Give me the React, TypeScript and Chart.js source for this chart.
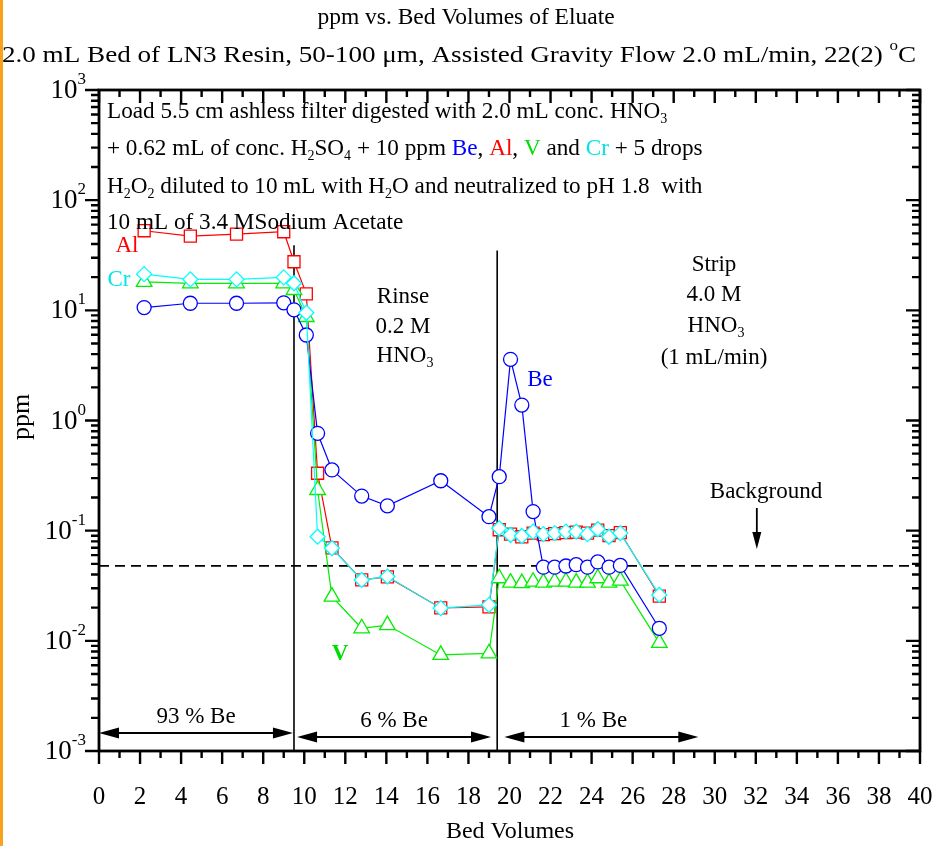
import React, { useEffect, useRef } from 'react';
import { Chart, registerables } from 'chart.js';

Chart.register(...registerables);

// ---------- data ----------
const bedVolumes = [2.2, 4.45, 6.7, 9.0, 9.5, 10.1, 10.65, 11.35, 12.8, 14.05, 16.65, 19.0, 19.5, 20.05, 20.6, 21.15, 21.65, 22.2, 22.75, 23.25, 23.8, 24.3, 24.85, 25.4, 27.3];
const bePpm = [10.6, 11.6, 11.6, 11.7, 10.1, 5.97, 0.765, 0.356, 0.206, 0.168, 0.284, 0.134, 0.309, 3.59, 1.38, 0.149, 0.0466, 0.0466, 0.0478, 0.0491, 0.0466, 0.052, 0.0466, 0.0484, 0.013];
const alPpm = [52.8, 47.2, 49.2, 51.7, 27.6, 14.1, 0.332, 0.0697, 0.0357, 0.038, 0.0199, 0.0203, 0.102, 0.093, 0.088, 0.095, 0.092, 0.094, 0.096, 0.097, 0.095, 0.101, 0.09, 0.096, 0.0255];
const vPpm = [18.1, 17.6, 17.6, 17.6, 15.3, 8.7, 0.234, 0.0252, 0.013, 0.0139, 0.00745, 0.0077, 0.037, 0.0338, 0.0334, 0.0344, 0.0338, 0.0344, 0.0344, 0.0338, 0.0338, 0.037, 0.0338, 0.0352, 0.00957];
const crPpm = [21.3, 19.1, 19.1, 19.9, 17.6, 9.5, 0.0882, 0.0692, 0.0357, 0.0383, 0.0198, 0.0212, 0.105, 0.0914, 0.0894, 0.098, 0.093, 0.095, 0.098, 0.098, 0.093, 0.103, 0.088, 0.095, 0.0261];

const xTickLabels = ['0', '2', '4', '6', '8', '10', '12', '14', '16', '18', '20', '22', '24', '26', '28', '30', '32', '34', '36', '38', '40'];
const yTickExponents = ['-3', '-2', '-1', '0', '1', '2', '3'];

const backgroundPpm = 0.048;
const sectionBoundaries = [9.5, 19.4];
const sectionTopPpm = [39, 35];
const percentLabels = ['93 % Be', '6 % Be', '1 % Be'];
const percentFrom = [0, 9.65, 19.75];
const percentTo = [9.45, 19.1, 29.2];
const percentArrowPpm = [0.00146, 0.00134, 0.00134];

// ---------- helpers ----------
const FONT = '"Liberation Serif", "Times New Roman", serif';
type Seg = { t: string; c?: string; sub?: boolean; sup?: boolean; b?: boolean };

function fontOf(size: number, bold?: boolean) {
  return `${bold ? 'bold ' : ''}${size}px ${FONT}`;
}
function segSize(s: Seg, size: number) {
  return s.sub || s.sup ? Math.round(size * 0.62) : size;
}
function richWidth(ctx: CanvasRenderingContext2D, segs: Seg[], size: number) {
  let w = 0;
  for (const s of segs) {
    ctx.font = fontOf(segSize(s, size), s.b);
    w += ctx.measureText(s.t).width;
  }
  return w;
}
function drawRich(ctx: CanvasRenderingContext2D, segs: Seg[], x: number, y: number, size: number, align: 'left' | 'center' | 'right' = 'left', color = '#000', sx = 1) {
  const w = richWidth(ctx, segs, size) * sx;
  const start = align === 'left' ? x : align === 'center' ? x - w / 2 : x - w;
  ctx.save();
  ctx.translate(start, y);
  ctx.scale(sx, 1);
  let cx = 0;
  ctx.textBaseline = 'middle';
  ctx.textAlign = 'left';
  for (const s of segs) {
    const fs = segSize(s, size);
    ctx.font = fontOf(fs, s.b);
    ctx.fillStyle = s.c || color;
    let dy = 0;
    if (s.sub) dy = size * 0.32;
    if (s.sup) dy = -size * 0.42;
    ctx.fillText(s.t, cx, dy);
    cx += ctx.measureText(s.t).width;
  }
  ctx.restore();
}
function arrowHead(ctx: CanvasRenderingContext2D, tipX: number, tipY: number, dirX: number, dirY: number, len: number, half: number) {
  const bx = tipX - dirX * len;
  const by = tipY - dirY * len;
  const px = -dirY, py = dirX;
  ctx.beginPath();
  ctx.moveTo(tipX, tipY);
  ctx.lineTo(bx + px * half, by + py * half);
  ctx.lineTo(bx - px * half, by - py * half);
  ctx.closePath();
  ctx.fill();
}

const decorPlugin = {
  id: 'decor',
  beforeDraw(chart: any) {
    const ctx: CanvasRenderingContext2D = chart.ctx;
    ctx.save();
    ctx.fillStyle = '#ffffff';
    ctx.fillRect(0, 0, chart.width, chart.height);
    ctx.fillStyle = '#F9A21B';
    ctx.fillRect(0, 0, 3, chart.height);
    ctx.restore();
  },
  beforeDatasetsDraw(chart: any) {
    const ctx: CanvasRenderingContext2D = chart.ctx;
    const xs = chart.scales.x, ys = chart.scales.y;
    const a = chart.chartArea;
    ctx.save();
    ctx.strokeStyle = '#000';
    ctx.lineWidth = 1.6;
    sectionBoundaries.forEach((b, i) => {
      const px = xs.getPixelForValue(b);
      ctx.beginPath();
      ctx.moveTo(px, ys.getPixelForValue(sectionTopPpm[i]));
      ctx.lineTo(px, a.bottom);
      ctx.stroke();
    });
    const by = ys.getPixelForValue(backgroundPpm);
    ctx.setLineDash([10, 6]);
    ctx.lineWidth = 1.8;
    ctx.beginPath();
    ctx.moveTo(a.left, by);
    ctx.lineTo(a.right, by);
    ctx.stroke();
    ctx.setLineDash([]);
    ctx.restore();
  },
  afterDraw(chart: any) {
    const ctx: CanvasRenderingContext2D = chart.ctx;
    const xs = chart.scales.x, ys = chart.scales.y;
    const a = chart.chartArea;
    ctx.save();
    ctx.strokeStyle = '#000';
    ctx.fillStyle = '#000';

    // frame
    ctx.lineWidth = 2.8;
    ctx.strokeRect(a.left, a.top, a.right - a.left, a.bottom - a.top);

    // x ticks
    ctx.lineWidth = 2.4;
    for (let v = 0; v <= 40; v++) {
      const px = xs.getPixelForValue(v);
      const major = v % 2 === 0;
      const len = major ? 13 : 7;
      ctx.beginPath();
      ctx.moveTo(px, a.bottom);
      ctx.lineTo(px, a.bottom + len);
      ctx.moveTo(px, a.top);
      ctx.lineTo(px, a.top + len);
      ctx.stroke();
    }
    // y ticks
    for (let e = -3; e <= 3; e++) {
      for (let m = 1; m <= 9; m++) {
        if (e === 3 && m > 1) break;
        const v = m * Math.pow(10, e);
        const py = ys.getPixelForValue(v);
        const major = m === 1;
        const len = major ? 14 : 8;
        ctx.beginPath();
        ctx.moveTo(a.left - len, py);
        ctx.lineTo(a.left, py);
        ctx.moveTo(a.right, py);
        ctx.lineTo(a.right - len, py);
        ctx.stroke();
      }
    }

    // x tick labels
    xTickLabels.forEach((lab) => {
      const px = xs.getPixelForValue(Number(lab));
      drawRich(ctx, [{ t: lab }], px, 797, 25, 'center');
    });
    // y tick labels
    yTickExponents.forEach((ex) => {
      const py = ys.getPixelForValue(Math.pow(10, Number(ex)));
      drawRich(ctx, [{ t: '10' }, { t: ex, sup: true }], 86, py + 1, 27, 'right');
    });

    // axis titles
    drawRich(ctx, [{ t: 'Bed Volumes' }], 510, 832, 24, 'center');
    ctx.save();
    ctx.translate(22, 417);
    ctx.rotate(-Math.PI / 2);
    drawRich(ctx, [{ t: 'ppm' }], 0, 0, 26, 'center');
    ctx.restore();

    // titles
    drawRich(ctx, [{ t: 'ppm vs. Bed Volumes of Eluate' }], 466, 18, 23.5, 'center');
    drawRich(ctx, [{ t: '2.0 mL Bed of LN3 Resin, 50-100 \u03bcm, Assisted Gravity Flow 2.0 mL/min, 22(2) ' }, { t: 'o', sup: true }, { t: 'C' }], 459, 56, 24, 'center', '#000', 1.13);

    // load description
    const L = 107;
    drawRich(ctx, [{ t: 'Load 5.5 cm ashless filter digested with 2.0 mL conc. HNO' }, { t: '3', sub: true }], L, 112, 23.2);
    drawRich(ctx, [
      { t: '+ 0.62 mL of conc. H' }, { t: '2', sub: true }, { t: 'SO' }, { t: '4', sub: true },
      { t: ' + 10 ppm ' }, { t: 'Be', c: '#0000ff' }, { t: ', ' }, { t: 'Al', c: '#ff0000' }, { t: ', ' },
      { t: 'V', c: '#00dd00' }, { t: ' and ' }, { t: 'Cr', c: '#00e5e5' }, { t: ' + 5 drops' },
    ], L, 149, 23.2);
    drawRich(ctx, [
      { t: 'H' }, { t: '2', sub: true }, { t: 'O' }, { t: '2', sub: true },
      { t: ' diluted to 10 mL with H' }, { t: '2', sub: true }, { t: 'O and neutralized to pH 1.8  with' },
    ], L, 187, 23.2);
    drawRich(ctx, [{ t: '10 mL of 3.4 MSodium Acetate' }], L, 223, 23.2);

    // series labels
    drawRich(ctx, [{ t: 'Al' }], 127, 246, 23, 'center', '#ff0000');
    drawRich(ctx, [{ t: 'Cr' }], 119, 280, 23, 'center', '#00e5e5');
    drawRich(ctx, [{ t: 'V', b: true }], 340, 654, 23, 'center', '#00dd00');
    drawRich(ctx, [{ t: 'Be' }], 540, 380, 23, 'center', '#0000ff');

    // section texts
    drawRich(ctx, [{ t: 'Rinse' }], 403, 297, 23, 'center');
    drawRich(ctx, [{ t: '0.2 M' }], 403, 327, 23, 'center');
    drawRich(ctx, [{ t: 'HNO' }, { t: '3', sub: true }], 405, 356, 23, 'center');
    drawRich(ctx, [{ t: 'Strip' }], 714, 265, 23, 'center');
    drawRich(ctx, [{ t: '4.0 M' }], 714, 295, 23, 'center');
    drawRich(ctx, [{ t: 'HNO' }, { t: '3', sub: true }], 716, 326, 23, 'center');
    drawRich(ctx, [{ t: '(1 mL/min)' }], 714, 358, 23, 'center');
    drawRich(ctx, [{ t: 'Background' }], 766, 492, 23, 'center');

    // background arrow
    const bx = xs.getPixelForValue(32.05);
    ctx.lineWidth = 1.8;
    ctx.beginPath();
    ctx.moveTo(bx, 508);
    ctx.lineTo(bx, 536);
    ctx.stroke();
    arrowHead(ctx, bx, 549, 0, 1, 17, 4.5);

    // percent arrows
    percentLabels.forEach((lab, i) => {
      const x1 = xs.getPixelForValue(percentFrom[i]);
      const x2 = xs.getPixelForValue(percentTo[i]);
      const y = ys.getPixelForValue(percentArrowPpm[i]);
      ctx.lineWidth = 2;
      ctx.beginPath();
      ctx.moveTo(x1 + 12, y);
      ctx.lineTo(x2 - 12, y);
      ctx.stroke();
      arrowHead(ctx, x1, y, -1, 0, 20, 5.5);
      arrowHead(ctx, x2, y, 1, 0, 20, 5.5);
      drawRich(ctx, [{ t: lab }], (x1 + x2) / 2 + (i === 2 ? -8 : 0), y - 16, 23, 'center');
    });

    ctx.restore();
  },
};

function series(label: string, ys: number[], color: string, style: string, radius: number, order: number) {
  return {
    label,
    data: bedVolumes.map((x, i) => ({ x, y: ys[i] })),
    showLine: true,
    borderColor: color,
    borderWidth: 1.2,
    pointStyle: style,
    pointRadius: radius,
    pointBorderColor: color,
    pointBackgroundColor: '#ffffff',
    pointBorderWidth: 1.3,
    order,
  };
}

export default function App() {
  const ref = useRef<HTMLCanvasElement>(null);
  useEffect(() => {
    if (!ref.current) return;
    const chart = new Chart(ref.current, {
      type: 'scatter',
      data: {
        datasets: [
          series('Cr', crPpm, '#00ffff', 'rectRot', 7.5, 1),
          series('Be', bePpm, '#0000ff', 'circle', 7, 2),
          series('V', vPpm, '#00ee00', 'triangle', 9, 3),
          series('Al', alPpm, '#ff0000', 'rect', 8.5, 4),
        ] as any,
      },
      options: {
        animation: false,
        responsive: false,
        maintainAspectRatio: false,
        devicePixelRatio: 1,
        layout: { padding: { left: 99, right: 13, top: 90, bottom: 95 } },
        plugins: { legend: { display: false }, tooltip: { enabled: false }, title: { display: false } },
        scales: {
          x: { type: 'linear', min: 0, max: 40, display: false },
          y: { type: 'logarithmic', min: 0.001, max: 1000, display: false },
        },
      },
      plugins: [decorPlugin],
    });
    return () => chart.destroy();
  }, []);
  return (
    <div style={{ position: 'absolute', left: 0, top: 0, width: 933, height: 846, background: '#fff' }}>
      <canvas ref={ref} width={933} height={846} style={{ width: 933, height: 846, display: 'block' }} />
    </div>
  );
}
